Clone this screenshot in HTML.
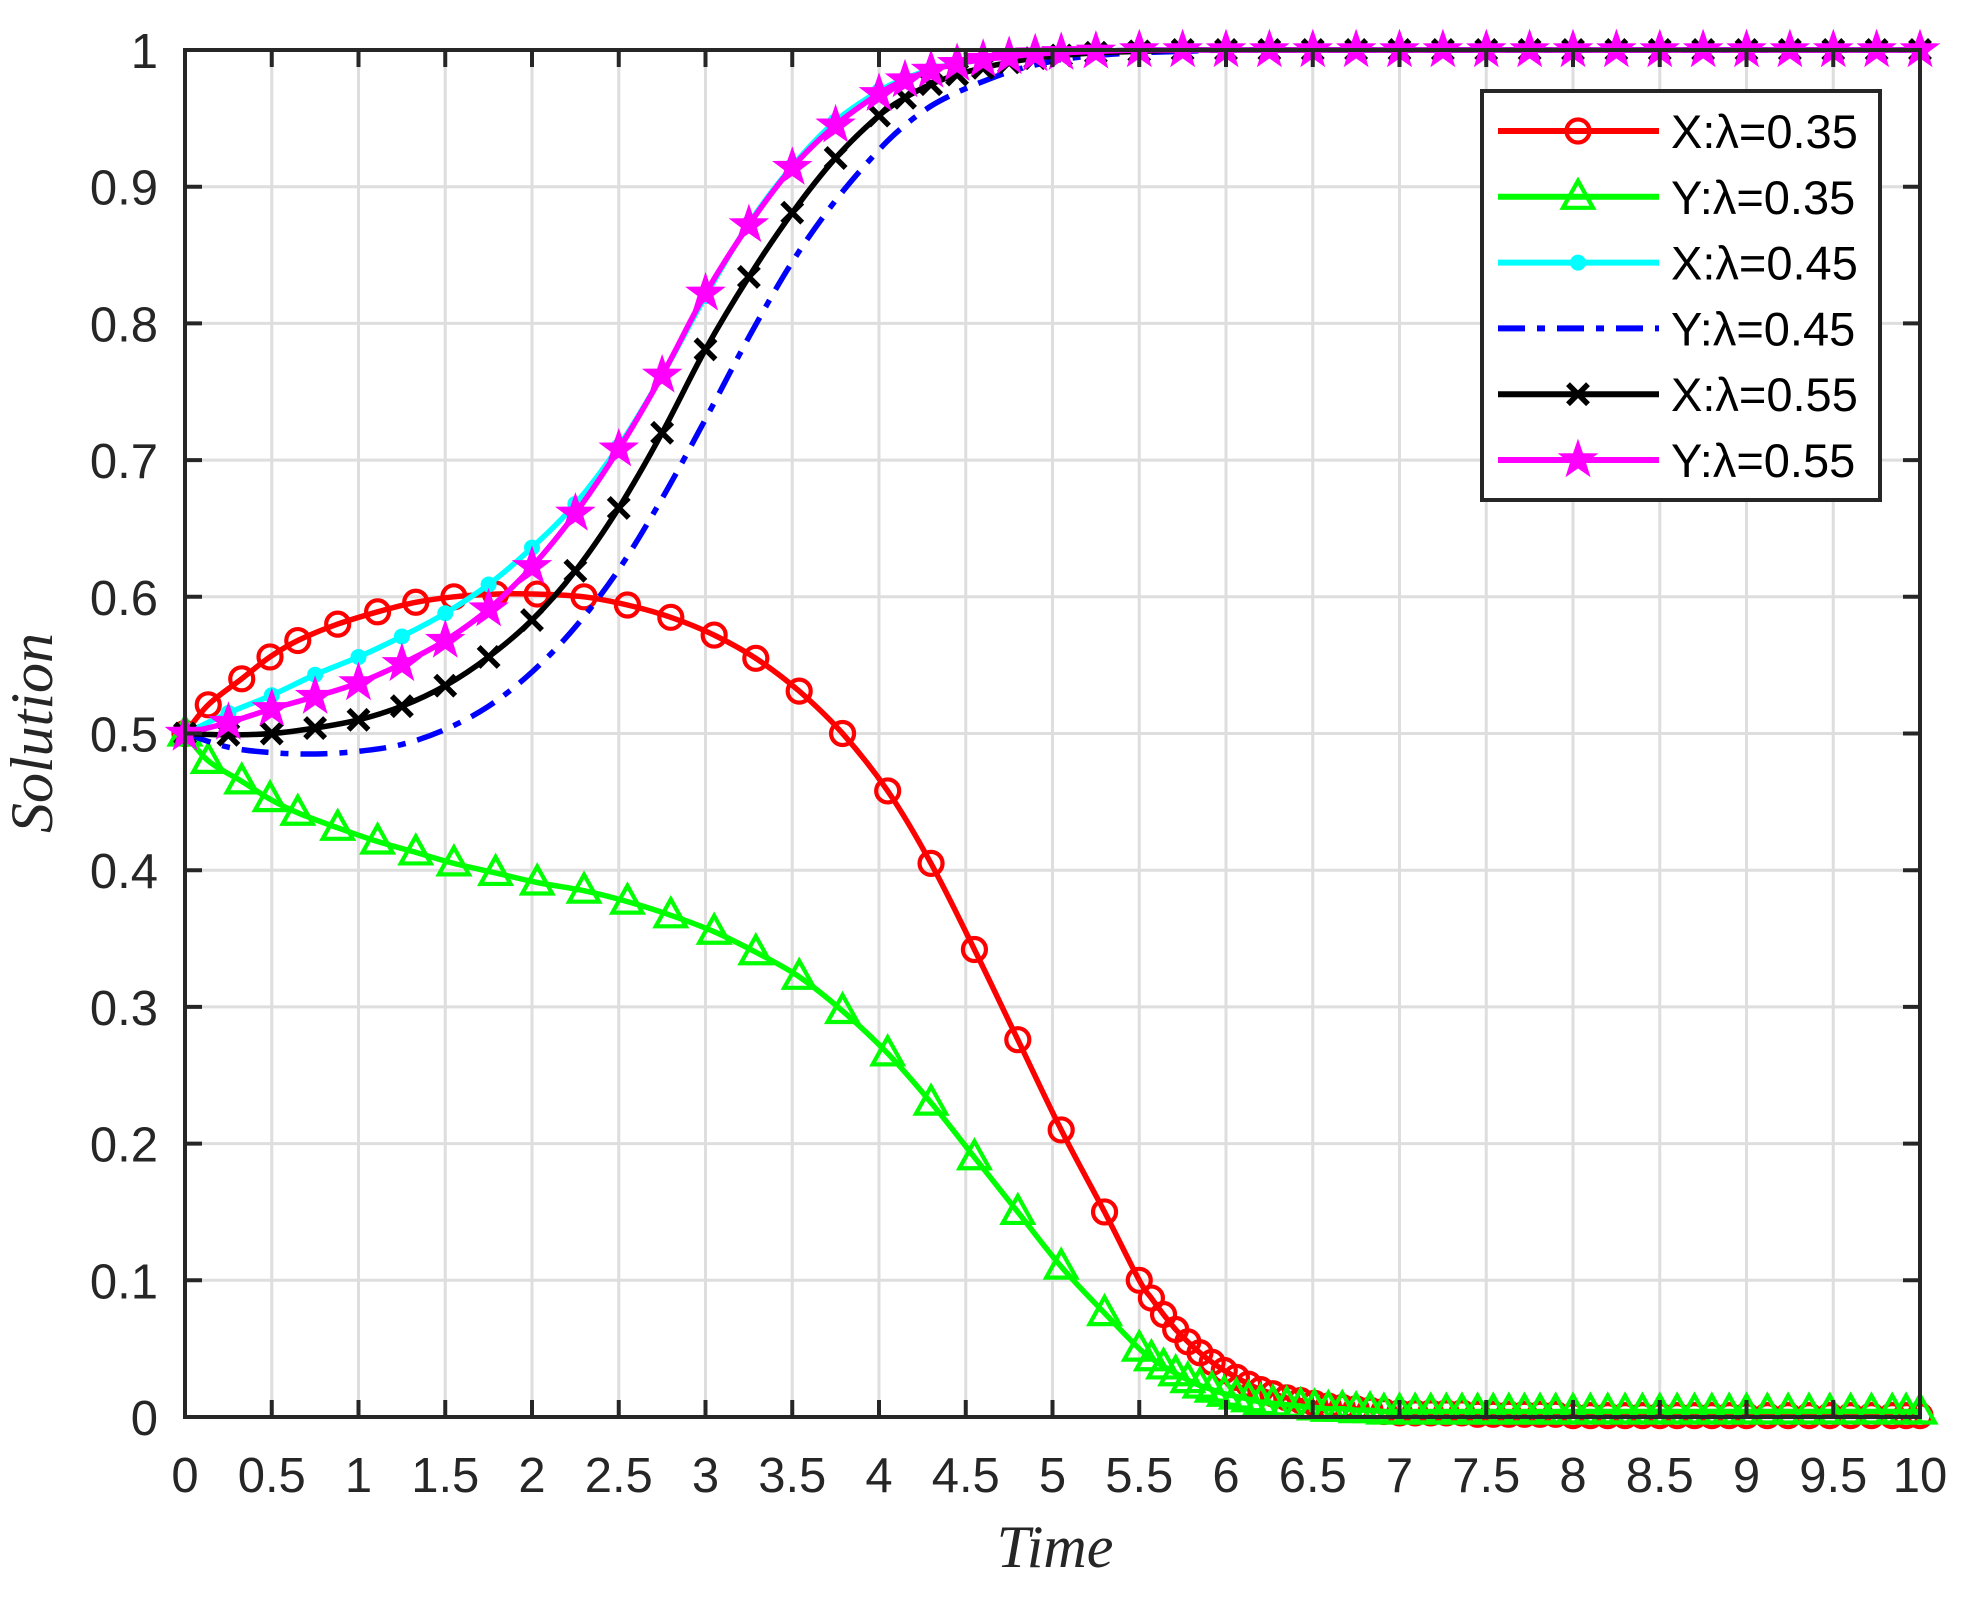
<!DOCTYPE html>
<html><head><meta charset="utf-8"><style>
html,body{margin:0;padding:0;background:#fff;}
svg{display:block;}
</style></head><body>
<svg id="chart" width="1969" height="1610" viewBox="0 0 1969 1610" xmlns="http://www.w3.org/2000/svg">
<rect width="1969" height="1610" fill="#fff"/>
<g id="grid"></g>
<g id="series"></g>
<g id="axes"></g>
<text x="1055" y="1567" font-family="Liberation Serif, serif" font-style="italic" font-size="60" text-anchor="middle" fill="#262626">Time</text>
<text transform="translate(52,733) rotate(-90)" font-family="Liberation Serif, serif" font-style="italic" font-size="60" text-anchor="middle" fill="#262626">Solution</text>
<g id="legend"></g>
</svg>
<script>
const xTicks=[0,0.5,1,1.5,2,2.5,3,3.5,4,4.5,5,5.5,6,6.5,7,7.5,8,8.5,9,9.5,10];
const xTickLabels=["0","0.5","1","1.5","2","2.5","3","3.5","4","4.5","5","5.5","6","6.5","7","7.5","8","8.5","9","9.5","10"];
const yTicks=[0,0.1,0.2,0.3,0.4,0.5,0.6,0.7,0.8,0.9,1];
const yTickLabels=["0","0.1","0.2","0.3","0.4","0.5","0.6","0.7","0.8","0.9","1"];

const t35=[0,0.134,0.327,0.49,0.65,0.88,1.11,1.33,1.55,1.79,2.03,2.3,2.55,2.8,3.05,3.29,3.54,3.79,4.05,4.3,4.55,4.8,5.05,5.3,
5.5,5.57,5.64,5.71,5.78,5.85,5.92,5.99,6.06,6.13,6.2,6.27,6.35,6.43,6.51,6.59,6.67,6.75,6.83,6.91,7.0,7.09,7.18,7.27,7.36,7.45,7.54,7.63,7.72,7.81,7.9,8.0,8.1,8.2,8.3,8.4,8.5,8.6,8.7,8.8,8.9,9.0,9.12,9.24,9.36,9.48,9.6,9.72,9.84,9.92,10];
const xLam35=[0.5,0.521,0.54,0.556,0.568,0.58,0.589,0.596,0.6,0.602,0.602,0.6,0.594,0.585,0.572,0.555,0.531,0.5,0.458,0.405,0.342,0.276,0.21,0.15,
0.100,0.087,0.075,0.064,0.055,0.047,0.040,0.034,0.029,0.024,0.020,0.017,0.014,0.012,0.010,0.008,0.007,0.006,0.005,0.004,0.003,0.003,0.003,0.003,0.003,0.002,0.002,0.002,0.002,0.002,0.002,0.001,0.001,0.001,0.001,0.001,0.001,0.001,0.001,0.001,0.001,0.001,0.001,0.001,0.001,0.001,0.001,0.001,0.001,0.001,0.001];
const yLam35=[0.5,0.48,0.465,0.452,0.442,0.431,0.421,0.413,0.405,0.398,0.391,0.385,0.377,0.367,0.355,0.34,0.322,0.297,0.266,0.23,0.19,0.15,0.11,0.076,
0.050,0.043,0.037,0.032,0.027,0.023,0.020,0.017,0.015,0.013,0.011,0.010,0.009,0.008,0.007,0.006,0.006,0.005,0.005,0.004,0.004,0.004,0.004,0.004,0.004,0.004,0.004,0.004,0.004,0.004,0.004,0.004,0.004,0.004,0.004,0.004,0.004,0.004,0.004,0.004,0.004,0.004,0.004,0.004,0.004,0.004,0.004,0.004,0.004,0.004,0.004];

const tHi=[0,0.25,0.5,0.75,1,1.25,1.5,1.75,2,2.25,2.5,2.75,3,3.25,3.5,3.75,4,4.15,4.3,4.45,4.6,4.75,4.9,5.05,5.25,5.5,5.75,6,6.25,6.5,6.75,7,7.25,7.5,7.75,8,8.25,8.5,8.75,9,9.25,9.5,9.75,10];
const xLam45=[0.5,0.515,0.528,0.543,0.556,0.571,0.588,0.609,0.636,0.668,0.71,0.762,0.82,0.873,0.915,0.948,0.97,0.979,0.986,0.99,0.993,0.996,0.997,0.998,0.999,1,1,1,1,1,1,1,1,1,1,1,1,1,1,1,1,1,1,1];
const yLam45=[0.5,0.49,0.486,0.485,0.487,0.492,0.503,0.52,0.545,0.578,0.62,0.672,0.73,0.79,0.845,0.89,0.927,0.945,0.959,0.969,0.977,0.984,0.989,0.993,0.996,0.998,0.999,1,1,1,1,1,1,1,1,1,1,1,1,1,1,1,1,1];
const xLam55=[0.5,0.499,0.5,0.504,0.51,0.52,0.535,0.556,0.583,0.619,0.665,0.72,0.781,0.834,0.881,0.921,0.952,0.965,0.975,0.982,0.987,0.991,0.994,0.996,0.998,0.999,1,1,1,1,1,1,1,1,1,1,1,1,1,1,1,1,1,1];
const yLam55=[0.5,0.508,0.518,0.527,0.537,0.551,0.568,0.591,0.622,0.661,0.708,0.762,0.822,0.872,0.914,0.945,0.968,0.978,0.985,0.99,0.993,0.995,0.997,0.998,0.999,1,1,1,1,1,1,1,1,1,1,1,1,1,1,1,1,1,1,1];

const NS="http://www.w3.org/2000/svg";
const L=185,R=1920,T=50,B=1417;
function xS(v){return L+(v-0)/(10-0)*(R-L);}
function yS(v){return B-(v-0)/(1-0)*(B-T);}
function mk(tag,attrs,parent){const e=document.createElementNS(NS,tag);for(const k in attrs)e.setAttribute(k,attrs[k]);parent.appendChild(e);return e;}

const grid=document.getElementById('grid'),axes=document.getElementById('axes'),series=document.getElementById('series'),legend=document.getElementById('legend');
xTicks.forEach((v,i)=>{
  const g=mk('line',{x1:xS(v),x2:xS(v),y1:T,y2:B,stroke:'#dedede','stroke-width':3},grid);
  
  
  const t1=mk('line',{x1:xS(v),x2:xS(v),y1:B,y2:B-17,stroke:'#262626','stroke-width':4},axes);
  
  
  const t2=mk('line',{x1:xS(v),x2:xS(v),y1:T,y2:T+17,stroke:'#262626','stroke-width':4},axes);
  
  
  const lb=mk('text',{x:xS(v),y:1492,'text-anchor':'middle','font-family':'Liberation Sans, sans-serif','font-size':49,fill:'#262626'},axes);
  lb.textContent=xTickLabels[i];
  
  
});
yTicks.forEach((v,i)=>{
  const g=mk('line',{x1:L,x2:R,y1:yS(v),y2:yS(v),stroke:'#dedede','stroke-width':3},grid);
  
  
  const t1=mk('line',{x1:L,x2:L+17,y1:yS(v),y2:yS(v),stroke:'#262626','stroke-width':4},axes);
  
  
  const t2=mk('line',{x1:R,x2:R-17,y1:yS(v),y2:yS(v),stroke:'#262626','stroke-width':4},axes);
  
  
  const lb=mk('text',{x:158,y:yS(v)+18,'text-anchor':'end','font-family':'Liberation Sans, sans-serif','font-size':49,fill:'#262626'},axes);
  lb.textContent=yTickLabels[i];
  
  
});
const box=mk('rect',{x:L,y:T,width:R-L,height:B-T,fill:'none',stroke:'#262626','stroke-width':4},axes);



function pathD(ts,vs){
  const p=ts.map((t,i)=>[xS(t),yS(vs[i])]);
  let d='M'+p[0][0]+','+p[0][1];
  for(let i=0;i<p.length-1;i++){
    const p0=p[Math.max(0,i-1)],p1=p[i],p2=p[i+1],p3=p[Math.min(p.length-1,i+2)];
    const c1=[p1[0]+(p2[0]-p0[0])/6,p1[1]+(p2[1]-p0[1])/6];
    const c2=[p2[0]-(p3[0]-p1[0])/6,p2[1]-(p3[1]-p1[1])/6];
    d+=' C'+c1[0].toFixed(1)+','+c1[1].toFixed(1)+' '+c2[0].toFixed(1)+','+c2[1].toFixed(1)+' '+p2[0].toFixed(1)+','+p2[1].toFixed(1);
  }
  return d;
}
function marker(type,color,x,y,parent){
  let e;
  if(type==='circle') e=mk('circle',{cx:x,cy:y,r:11.5,fill:'none',stroke:color,'stroke-width':4.2},parent);
  else if(type==='tri') e=mk('polygon',{points:`${x},${y-16} ${x+15},${y+11} ${x-15},${y+11}`,fill:'none',stroke:color,'stroke-width':4.2},parent);
  else if(type==='dot') e=mk('circle',{cx:x,cy:y,r:8,fill:color},parent);
  else if(type==='x') e=mk('path',{d:`M${x-10},${y-10}L${x+10},${y+10}M${x-10},${y+10}L${x+10},${y-10}`,stroke:color,'stroke-width':5.5},parent);
  else if(type==='star'){let pts=[];for(let k=0;k<10;k++){const r=k%2?7.5:19,a=-Math.PI/2+k*Math.PI/5;pts.push((x+r*Math.cos(a)).toFixed(1)+','+(y+r*Math.sin(a)).toFixed(1));}
    e=mk('polygon',{points:pts.join(' '),fill:color,stroke:color,'stroke-width':1.5},parent);}
  return e;
}
const defs=[
 {name:'x-lambda-0.35',t:t35,v:xLam35,color:'#ff0000',m:'circle',dash:null,label:'X:λ=0.35'},
 {name:'y-lambda-0.35',t:t35,v:yLam35,color:'#00ff00',m:'tri',dash:null,label:'Y:λ=0.35'},
 {name:'x-lambda-0.45',t:tHi,v:xLam45,color:'#00ffff',m:'dot',dash:null,label:'X:λ=0.45'},
 {name:'y-lambda-0.45',t:tHi,v:yLam45,color:'#0000ff',m:null,dash:'27 12 8 12',label:'Y:λ=0.45'},
 {name:'x-lambda-0.55',t:tHi,v:xLam55,color:'#000000',m:'x',dash:null,label:'X:λ=0.55'},
 {name:'y-lambda-0.55',t:tHi,v:yLam55,color:'#ff00ff',m:'star',dash:null,label:'Y:λ=0.55'}
];
defs.forEach(s=>{
  const g=mk('g',{},series);
  
  
  const a={d:pathD(s.t,s.v),fill:'none',stroke:s.color,'stroke-width':5.5,'stroke-linejoin':'round'};
  if(s.dash)a['stroke-dasharray']=s.dash;
  const ln=mk('path',a,g);
  
  
  if(s.m){s.t.forEach((t,i)=>{const e=marker(s.m,s.color,xS(t),yS(s.v[i]),g);
    
    });}
});
const lb=mk('rect',{x:1482,y:91,width:398,height:409,fill:'#fff',stroke:'#262626','stroke-width':4},legend);


defs.forEach((s,i)=>{
  const y=131+i*65.8;
  const g=mk('g',{},legend);
  
  
  const a={x1:1498,x2:1659,y1:y,y2:y,stroke:s.color,'stroke-width':6};
  if(s.dash)a['stroke-dasharray']=s.dash;
  const l=mk('line',a,g);
  
  
  if(s.m){const e=marker(s.m,s.color,1578,y,g);
    
    }
  const tx=mk('text',{x:1671,y:y+17,'font-family':'Liberation Sans, sans-serif','font-size':47,fill:'#000'},g);
  tx.textContent=s.label;
  
  
});
</script>
</body></html>
